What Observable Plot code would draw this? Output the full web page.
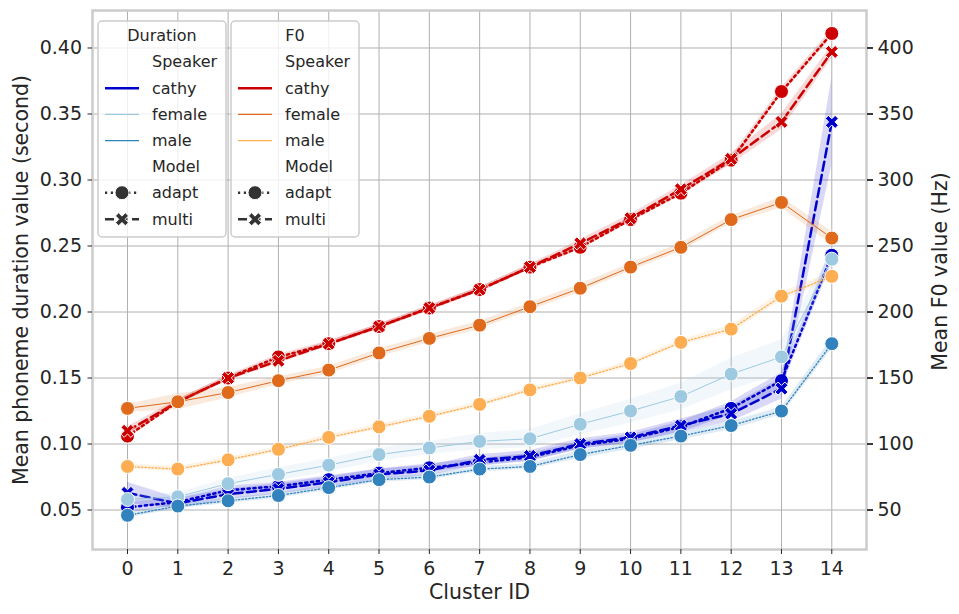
<!DOCTYPE html>
<html><head><meta charset="utf-8">
<script src="https://cdn.jsdelivr.net/npm/d3@7"></script>
<script src="https://cdn.jsdelivr.net/npm/@observablehq/plot@0.6"></script>
<style>
body{margin:0;background:#fff;}
#wrap{position:relative;width:959px;height:614px;}
#wrap svg{position:absolute;left:0;top:0;}
</style></head><body><div id="wrap"></div>
<script>
// ---- data ----
const clusters = [0,1,2,3,4,5,6,7,8,9,10,11,12,13,14];
const durTicks = [0.05,0.10,0.15,0.20,0.25,0.30,0.35,0.40];
const f0Ticks = [50,100,150,200,250,300,350,400];

// Mean phoneme duration (second)
const durCathyAdapt = [0.052,0.056,0.065,0.068,0.073,0.078,0.082,0.086,0.090,0.099,0.104,0.113,0.127,0.148,0.243];
const durCathyMulti = [0.063,0.055,0.062,0.066,0.071,0.077,0.080,0.088,0.091,0.100,0.105,0.114,0.123,0.142,0.344];
const durFemale     = [0.058,0.060,0.070,0.077,0.084,0.092,0.097,0.102,0.104,0.115,0.125,0.136,0.153,0.166,0.240];
const durMale       = [0.046,0.053,0.057,0.061,0.067,0.073,0.075,0.081,0.083,0.092,0.099,0.106,0.114,0.125,0.176];
// confidence half-widths (second)
const durCathyAdaptCI = [0.004,0.003,0.003,0.003,0.003,0.003,0.003,0.003,0.003,0.003,0.003,0.004,0.005,0.006,0.006];
const durCathyMultiCI = [0.008,0.004,0.004,0.004,0.004,0.004,0.004,0.004,0.004,0.004,0.004,0.005,0.006,0.008,0.033];
const durFemaleCI     = [0.003,0.003,0.004,0.005,0.005,0.005,0.005,0.006,0.007,0.008,0.009,0.010,0.012,0.013,0.006];
const durMaleCI       = [0.002,0.002,0.002,0.002,0.002,0.002,0.002,0.002,0.002,0.003,0.003,0.003,0.003,0.003,0.004];

// Mean F0 (Hz)
const f0CathyAdapt = [106,132,150,166,176,189,203,217,234,249,270,290,315,367,411];
const f0CathyMulti = [110,132,150,163,176,189,203,217,234,252,271,293,316,344,397];
const f0Female     = [127,132,139,148,156,169,180,190,204,218,234,249,270,283,256];
const f0Male       = [83,81,88,96,105,113,121,130,141,150,161,177,187,212,227];
// confidence half-widths (Hz)
const f0CathyAdaptCI = [2,2,2,2,2,2,2,2,2,2,2,2,3,3,3];
const f0CathyMultiCI = [3,2,2,2,2,2,2,2,2,3,3,3,4,6,5];
const f0FemaleCI     = [3,6,4,3,3,3,3,3,3,3,3,3,3,4,5];
const f0MaleCI       = [2,2,2,2,2,2,2,2,2,2,2,2,3,3,3];

// ---- styles ----
const C = {dCathy:"#0000cc", dFemale:"#9ecae1", dMale:"#3182bd", fCathy:"#cc0000", fFemale:"#df6a1c", fMale:"#fdad52"};
const DOT = "2.2,3.6", DASH = "9,4.5";
const R = 7;

// filled bold X marker
const xSymbol = {
  draw(ctx, size) {
    const L = Math.sqrt(size / Math.PI), h = L * 0.32;
    const pts = [[-h,-L],[h,-L],[h,-h],[L,-h],[L,h],[h,h],[h,L],[-h,L],[-h,h],[-L,h],[-L,-h],[-h,-h]]
      .map(([x,y]) => [(x - y) / Math.SQRT2, (x + y) / Math.SQRT2]);
    ctx.moveTo(pts[0][0], pts[0][1]);
    for (let i = 1; i < pts.length; i++) ctx.lineTo(pts[i][0], pts[i][1]);
    ctx.closePath();
  }
};

const series = [
  {vals: durCathyAdapt, ci: durCathyAdaptCI, k: 1, color: C.dCathy, width: 2.5, dash: DOT, marker: "circle"},
  {vals: durCathyMulti, ci: durCathyMultiCI, k: 1, color: C.dCathy, width: 2.5, dash: DASH, marker: "x"},
  {vals: durFemale, ci: durFemaleCI, k: 1, color: C.dFemale, width: 1, dash: null, marker: "circle"},
  {vals: durMale, ci: durMaleCI, k: 1, color: C.dMale, width: 1.3, dash: "1.5,2", marker: "circle"},
  {vals: f0CathyAdapt, ci: f0CathyAdaptCI, k: 0.001, color: C.fCathy, width: 2.5, dash: DOT, marker: "circle"},
  {vals: f0CathyMulti, ci: f0CathyMultiCI, k: 0.001, color: C.fCathy, width: 2.5, dash: DASH, marker: "x"},
  {vals: f0Female, ci: f0FemaleCI, k: 0.001, color: C.fFemale, width: 1, dash: null, marker: "circle"},
  {vals: f0Male, ci: f0MaleCI, k: 0.001, color: C.fMale, width: 1.3, dash: "1.5,2", marker: "circle"}
];

const seriesMarks = series.flatMap(s => {
  const rows = clusters.map((c, i) => ({x: c, y: s.vals[i] * s.k, lo: (s.vals[i] - s.ci[i]) * s.k, hi: (s.vals[i] + s.ci[i]) * s.k}));
  const lineOpts = {x: "x", y: "y", stroke: s.color, strokeWidth: s.width};
  if (s.dash) lineOpts.strokeDasharray = s.dash;
  const dotOpts = {x: "x", y: "y", r: R, fill: s.color, stroke: "white", strokeWidth: 1};
  if (s.marker === "x") dotOpts.symbol = xSymbol;
  return [
    Plot.areaY(rows, {x: "x", y1: "lo", y2: "hi", fill: s.color, fillOpacity: 0.15}),
    Plot.line(rows, lineOpts),
    Plot.dot(rows, dotOpts)
  ];
});

const chart = Plot.plot({
  width: 959, height: 614,
  marginLeft: 92, marginRight: 93, marginTop: 10, marginBottom: 65,
  x: {domain: [-0.696, 14.69]},
  y: {domain: [0.0201, 0.4284]},
  style: {fontFamily: "DejaVu Sans", fontSize: "19px", color: "#262626", background: "white"},
  marks: [
    Plot.ruleX(clusters, {x: d => d, stroke: "#b0b0b0", strokeWidth: 1}),
    Plot.ruleY(durTicks, {y: d => d, stroke: "#b0b0b0", strokeWidth: 1}),
    ...seriesMarks,
    Plot.frame({stroke: "#cccccc", strokeWidth: 2.5}),
    Plot.axisX(clusters, {tickSize: 5, tickPadding: 7, fontSize: 19, label: null, stroke: "#262626"}),
    Plot.axisY(durTicks, {anchor: "left", tickSize: 4.5, tickPadding: 6, fontSize: 19, tickFormat: d3.format(".2f"), label: null}),
    Plot.axisY(f0Ticks.map(v => v / 1000), {anchor: "right", tickSize: 6, tickPadding: 5, fontSize: 19, strokeWidth: 1.8, tickFormat: d => String(Math.round(d * 1000)), label: null}),
    Plot.text(["Cluster ID"], {frameAnchor: "bottom", dy: 43, textAnchor: "middle", lineAnchor: "middle", text: d => d, fontSize: 20.5, fill: "#262626"}),
    Plot.text(["Mean phoneme duration value (second)"], {frameAnchor: "left", dx: -71, rotate: -90, textAnchor: "middle", lineAnchor: "middle", text: d => d, fontSize: 20.5, fill: "#262626"}),
    Plot.text(["Mean F0 value (Hz)"], {frameAnchor: "right", dx: 74, dy: -8.5, rotate: -90, textAnchor: "middle", lineAnchor: "middle", text: d => d, fontSize: 20.5, fill: "#262626"})
  ]
});
document.getElementById("wrap").appendChild(chart);

// ---- legends ----
const leg = d3.select("#wrap").append("svg").attr("width", 959).attr("height", 614).style("pointer-events", "none");
function legendBox(x0, title, cathy, female, male) {
  const g = leg.append("g").attr("font-family", "DejaVu Sans").attr("font-size", 16).attr("fill", "#262626");
  g.append("rect").attr("x", x0).attr("y", 21).attr("width", 128).attr("height", 216).attr("rx", 4)
    .attr("fill", "white").attr("fill-opacity", 0.8).attr("stroke", "#cccccc").attr("stroke-width", 1.5);
  g.append("text").attr("x", x0 + 64).attr("y", 35).attr("text-anchor", "middle").attr("dominant-baseline", "central").text(title);
  const items = [
    {t: "Speaker", y: 61.7},
    {t: "cathy", y: 88.3, color: cathy, w: 2.5},
    {t: "female", y: 114.3, color: female, w: 1.3},
    {t: "male", y: 140.7, color: male, w: 1.3},
    {t: "Model", y: 166.7},
    {t: "adapt", y: 192.7, color: "#333333", w: 2.5, dash: DOT, m: "circle"},
    {t: "multi", y: 219.3, color: "#333333", w: 2.5, dash: DASH, m: "x"}
  ];
  for (const it of items) {
    g.append("text").attr("x", x0 + 54).attr("y", it.y).attr("dominant-baseline", "central").text(it.t);
    if (it.color) {
      const ln = g.append("line").attr("x1", x0 + 7).attr("x2", x0 + 41).attr("y1", it.y).attr("y2", it.y)
        .attr("stroke", it.color).attr("stroke-width", it.w);
      if (it.dash) ln.attr("stroke-dasharray", it.dash);
      if (it.m === "circle") {
        g.append("circle").attr("cx", x0 + 24).attr("cy", it.y).attr("r", R).attr("fill", it.color).attr("stroke", "white").attr("stroke-width", 1);
      } else if (it.m === "x") {
        g.append("path").attr("transform", `translate(${x0 + 24},${it.y})`)
          .attr("d", d3.symbol(xSymbol, Math.PI * R * R)()).attr("fill", it.color).attr("stroke", "white").attr("stroke-width", 1);
      }
    }
  }
}
legendBox(98, "Duration", C.dCathy, C.dFemale, C.dMale);
legendBox(231, "F0", C.fCathy, C.fFemale, C.fMale);
</script>
</body></html>
